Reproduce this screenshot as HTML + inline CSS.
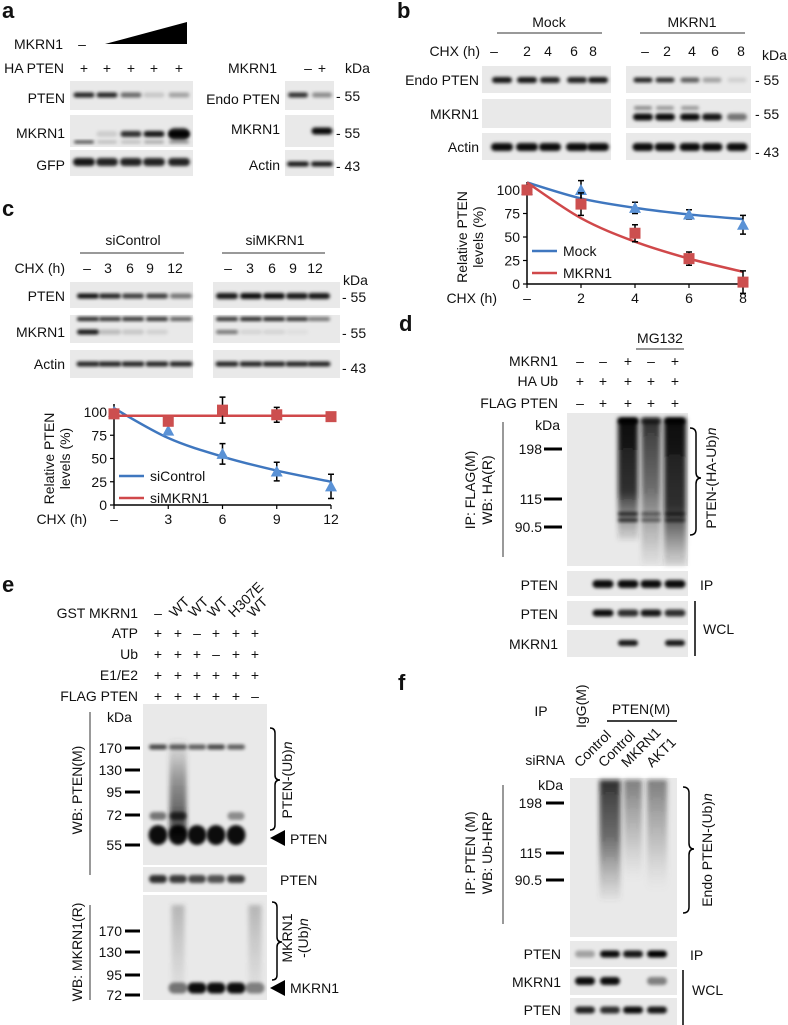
<!DOCTYPE html>
<html><head><meta charset="utf-8">
<style>
html,body{margin:0;padding:0;background:#fff;}
svg{display:block;font-family:"Liberation Sans",Arial,sans-serif;}
text{fill:#111;}
.pl{font-weight:bold;font-size:22px;}
.lb{font-size:14px;}
.sm{font-size:13px;}
</style></head>
<body>
<svg id="fig" width="788" height="1025" viewBox="0 0 788 1025">
<defs>
<filter id="bl" x="-30%" y="-60%" width="160%" height="220%"><feGaussianBlur stdDeviation="1.5"/></filter>
<filter id="bl2" x="-30%" y="-10%" width="160%" height="120%"><feGaussianBlur stdDeviation="2.5"/></filter>
<linearGradient id="smD" x1="0" y1="0" x2="0" y2="1"><stop offset="0" stop-color="#000" stop-opacity="0.95"/><stop offset="0.6" stop-color="#111" stop-opacity="0.85"/><stop offset="1" stop-color="#333" stop-opacity="0.1"/></linearGradient>
<linearGradient id="smM" x1="0" y1="0" x2="0" y2="1"><stop offset="0" stop-color="#111" stop-opacity="0.85"/><stop offset="0.5" stop-color="#222" stop-opacity="0.6"/><stop offset="1" stop-color="#555" stop-opacity="0.05"/></linearGradient>
<linearGradient id="smL" x1="0" y1="0" x2="0" y2="1"><stop offset="0" stop-color="#222" stop-opacity="0.55"/><stop offset="0.6" stop-color="#555" stop-opacity="0.25"/><stop offset="1" stop-color="#888" stop-opacity="0"/></linearGradient>
<linearGradient id="smE" x1="0" y1="0" x2="0" y2="1"><stop offset="0" stop-color="#555" stop-opacity="0.05"/><stop offset="0.4" stop-color="#333" stop-opacity="0.45"/><stop offset="1" stop-color="#111" stop-opacity="0.8"/></linearGradient>
<linearGradient id="smF" x1="0" y1="0" x2="0" y2="1"><stop offset="0" stop-color="#555" stop-opacity="0.35"/><stop offset="1" stop-color="#777" stop-opacity="0.1"/></linearGradient>
</defs>
<g id="blots"></g>

<!-- Panel a -->
<g>
<text class="pl" x="2" y="18">a</text>
<text class="lb" x="63" y="49" text-anchor="end">MKRN1</text>
<text class="lb" x="82" y="49" text-anchor="middle">–</text>
<polygon points="105,44 187,22 187,44" fill="#000"/>
<text class="lb" x="64" y="73" text-anchor="end">HA PTEN</text>
<text class="lb" x="84" y="73" text-anchor="middle">+</text><text class="lb" x="107" y="73" text-anchor="middle">+</text><text class="lb" x="131" y="73" text-anchor="middle">+</text><text class="lb" x="154" y="73" text-anchor="middle">+</text><text class="lb" x="179" y="73" text-anchor="middle">+</text>
<text class="lb" x="65" y="103" text-anchor="end">PTEN</text>
<text class="lb" x="65" y="138" text-anchor="end">MKRN1</text>
<text class="lb" x="65" y="170" text-anchor="end">GFP</text>
<text class="lb" x="277" y="73" text-anchor="end">MKRN1</text>
<text class="lb" x="308" y="73" text-anchor="middle">–</text><text class="lb" x="322" y="73" text-anchor="middle">+</text>
<text class="lb" x="345" y="73">kDa</text>
<text class="lb" x="280" y="104" text-anchor="end">Endo PTEN</text>
<text class="lb" x="280" y="134" text-anchor="end">MKRN1</text>
<text class="lb" x="280" y="170" text-anchor="end">Actin</text>
<text class="lb" x="336" y="101">- 55</text><text class="lb" x="336" y="138">- 55</text><text class="lb" x="336" y="171">- 43</text>
</g>

<!-- Panel b -->
<g>
<text class="pl" x="397" y="18">b</text>
<text class="lb" x="549" y="27" text-anchor="middle">Mock</text>
<line x1="497" y1="33" x2="602" y2="33" stroke="#333" stroke-width="1"/>
<text class="lb" x="692" y="27" text-anchor="middle">MKRN1</text>
<line x1="640" y1="33" x2="745" y2="33" stroke="#333" stroke-width="1"/>
<text class="lb" x="480" y="56" text-anchor="end">CHX (h)</text>
<text class="lb" x="494" y="56" text-anchor="middle">–</text><text class="lb" x="527" y="56" text-anchor="middle">2</text><text class="lb" x="548" y="56" text-anchor="middle">4</text><text class="lb" x="574" y="56" text-anchor="middle">6</text><text class="lb" x="593" y="56" text-anchor="middle">8</text>
<text class="lb" x="645" y="56" text-anchor="middle">–</text><text class="lb" x="667" y="56" text-anchor="middle">2</text><text class="lb" x="692" y="56" text-anchor="middle">4</text><text class="lb" x="715" y="56" text-anchor="middle">6</text><text class="lb" x="741" y="56" text-anchor="middle">8</text>
<text class="lb" x="762" y="60">kDa</text>
<text class="lb" x="479" y="85" text-anchor="end">Endo PTEN</text>
<text class="lb" x="479" y="119" text-anchor="end">MKRN1</text>
<text class="lb" x="479" y="152" text-anchor="end">Actin</text>
<text class="lb" x="755" y="85">- 55</text><text class="lb" x="755" y="119">- 55</text><text class="lb" x="755" y="157">- 43</text>
</g>

<!-- Panel c -->
<g>
<text class="pl" x="2" y="216">c</text>
<text class="lb" x="133" y="245" text-anchor="middle">siControl</text>
<line x1="80" y1="253" x2="184" y2="253" stroke="#333"/>
<text class="lb" x="275" y="245" text-anchor="middle">siMKRN1</text>
<line x1="222" y1="253" x2="325" y2="253" stroke="#333"/>
<text class="lb" x="65" y="273" text-anchor="end">CHX (h)</text>
<text class="lb" x="87" y="273" text-anchor="middle">–</text><text class="lb" x="108" y="273" text-anchor="middle">3</text><text class="lb" x="130" y="273" text-anchor="middle">6</text><text class="lb" x="150" y="273" text-anchor="middle">9</text><text class="lb" x="175" y="273" text-anchor="middle">12</text>
<text class="lb" x="228" y="273" text-anchor="middle">–</text><text class="lb" x="250" y="273" text-anchor="middle">3</text><text class="lb" x="272" y="273" text-anchor="middle">6</text><text class="lb" x="293" y="273" text-anchor="middle">9</text><text class="lb" x="315" y="273" text-anchor="middle">12</text>
<text class="lb" x="343" y="285">kDa</text>
<text class="lb" x="65" y="301" text-anchor="end">PTEN</text>
<text class="lb" x="65" y="337" text-anchor="end">MKRN1</text>
<text class="lb" x="65" y="369" text-anchor="end">Actin</text>
<text class="lb" x="342" y="302">- 55</text><text class="lb" x="342" y="338">- 55</text><text class="lb" x="342" y="373">- 43</text>
</g>

<!-- Panel d -->
<g>
<text class="pl" x="399" y="331">d</text>
<text class="lb" x="660" y="343" text-anchor="middle">MG132</text>
<line x1="636" y1="349" x2="684" y2="349" stroke="#333"/>
<text class="lb" x="558" y="366" text-anchor="end">MKRN1</text>
<text class="lb" x="558" y="386" text-anchor="end">HA Ub</text>
<text class="lb" x="558" y="408" text-anchor="end">FLAG PTEN</text>
<g class="lb" text-anchor="middle">
<text x="580" y="366">–</text><text x="603" y="366">–</text><text x="628" y="366">+</text><text x="651" y="366">–</text><text x="675" y="366">+</text>
<text x="580" y="386">+</text><text x="603" y="386">+</text><text x="628" y="386">+</text><text x="651" y="386">+</text><text x="675" y="386">+</text>
<text x="580" y="408">–</text><text x="603" y="408">+</text><text x="628" y="408">+</text><text x="651" y="408">+</text><text x="675" y="408">+</text>
</g>
<line x1="503" y1="422" x2="503" y2="557" stroke="#333"/>
<text class="lb" transform="translate(475,490) rotate(-90)" text-anchor="middle">IP: FLAG(M)</text>
<text class="lb" transform="translate(492,490) rotate(-90)" text-anchor="middle">WB: HA(R)</text>
<text class="lb" x="560" y="430" text-anchor="end">kDa</text>
<text class="lb" x="542" y="454" text-anchor="end">198</text><line x1="544" y1="449" x2="562" y2="449" stroke="#000" stroke-width="3"/>
<text class="lb" x="542" y="504" text-anchor="end">115</text><line x1="544" y1="499" x2="562" y2="499" stroke="#000" stroke-width="3"/>
<text class="lb" x="542" y="532" text-anchor="end">90.5</text><line x1="544" y1="527" x2="562" y2="527" stroke="#000" stroke-width="3"/>
<path d="M690,428 q6,0 6,6 v38 q0,6 5,6 q-5,0 -5,6 v45 q0,6 -6,6" fill="none" stroke="#000" stroke-width="1.5"/>
<text class="lb" transform="translate(716,478) rotate(-90)" text-anchor="middle">PTEN-(HA-Ub)<tspan font-style="italic">n</tspan></text>
<text class="lb" x="558" y="590" text-anchor="end">PTEN</text>
<text class="lb" x="700" y="590">IP</text>
<text class="lb" x="558" y="619" text-anchor="end">PTEN</text>
<text class="lb" x="558" y="649" text-anchor="end">MKRN1</text>
<line x1="695" y1="601" x2="695" y2="656" stroke="#000" stroke-width="1.5"/>
<text class="lb" x="703" y="634">WCL</text>
</g>

<!-- Panel e -->
<g>
<text class="pl" x="2" y="592">e</text>
<text class="lb" x="138" y="618" text-anchor="end">GST MKRN1</text>
<text class="lb" x="158" y="618" text-anchor="middle">–</text>
<text class="lb" transform="translate(175,618) rotate(-45)">WT</text>
<text class="lb" transform="translate(194,618) rotate(-45)">WT</text>
<text class="lb" transform="translate(213,618) rotate(-45)">WT</text>
<text class="lb" transform="translate(234,618) rotate(-45)">H307E</text>
<text class="lb" transform="translate(253,618) rotate(-45)">WT</text>
<text class="lb" x="138" y="638" text-anchor="end">ATP</text>
<text class="lb" x="138" y="659" text-anchor="end">Ub</text>
<text class="lb" x="138" y="680" text-anchor="end">E1/E2</text>
<text class="lb" x="138" y="701" text-anchor="end">FLAG PTEN</text>
<g class="lb" text-anchor="middle">
<text x="158" y="638">+</text><text x="178" y="638">+</text><text x="197" y="638">–</text><text x="216" y="638">+</text><text x="236" y="638">+</text><text x="255" y="638">+</text>
<text x="158" y="659">+</text><text x="178" y="659">+</text><text x="197" y="659">+</text><text x="216" y="659">–</text><text x="236" y="659">+</text><text x="255" y="659">+</text>
<text x="158" y="680">+</text><text x="178" y="680">+</text><text x="197" y="680">+</text><text x="216" y="680">+</text><text x="236" y="680">+</text><text x="255" y="680">+</text>
<text x="158" y="701">+</text><text x="178" y="701">+</text><text x="197" y="701">+</text><text x="216" y="701">+</text><text x="236" y="701">+</text><text x="255" y="701">–</text>
</g>
<line x1="90" y1="712" x2="90" y2="875" stroke="#333"/>
<text class="lb" transform="translate(82,790) rotate(-90)" text-anchor="middle">WB: PTEN(M)</text>
<line x1="90" y1="905" x2="90" y2="1000" stroke="#333"/>
<text class="lb" transform="translate(82,952) rotate(-90)" text-anchor="middle">WB: MKRN1(R)</text>
<text class="lb" x="107" y="722">kDa</text>
<g class="lb" text-anchor="end">
<text x="122" y="753">170</text><text x="122" y="775">130</text><text x="122" y="797">95</text><text x="122" y="820">72</text><text x="122" y="850">55</text>
<text x="122" y="936">170</text><text x="122" y="957">130</text><text x="122" y="980">95</text><text x="122" y="1000">72</text>
</g>
<g stroke="#000" stroke-width="3">
<line x1="125" y1="748" x2="140" y2="748"/><line x1="125" y1="770" x2="140" y2="770"/><line x1="125" y1="792" x2="140" y2="792"/><line x1="125" y1="815" x2="140" y2="815"/><line x1="125" y1="845" x2="140" y2="845"/>
<line x1="125" y1="931" x2="140" y2="931"/><line x1="125" y1="952" x2="140" y2="952"/><line x1="125" y1="975" x2="140" y2="975"/><line x1="125" y1="995" x2="140" y2="995"/>
</g>
<path d="M270,728 q5,0 5,5 v42 q0,5 5,5 q-5,0 -5,5 v40 q0,5 -5,5" fill="none" stroke="#000" stroke-width="1.5"/>
<text class="lb" transform="translate(292,780) rotate(-90)" text-anchor="middle">PTEN-(Ub)<tspan font-style="italic">n</tspan></text>
<polygon points="270,838 285,830 285,846" fill="#000"/>
<text class="lb" x="290" y="844">PTEN</text>
<text class="lb" x="280" y="885">PTEN</text>
<path d="M272,902 q5,0 5,5 v30 q0,5 5,5 q-5,0 -5,5 v28 q0,5 -5,5" fill="none" stroke="#000" stroke-width="1.5"/>
<text class="lb" transform="translate(292,938) rotate(-90)" text-anchor="middle">MKRN1</text>
<text class="lb" transform="translate(308,938) rotate(-90)" text-anchor="middle">-(Ub)<tspan font-style="italic">n</tspan></text>
<polygon points="270,988 285,980 285,996" fill="#000"/>
<text class="lb" x="290" y="993">MKRN1</text>
</g>

<!-- Panel f -->
<g>
<text class="pl" x="398" y="690">f</text>
<text class="lb" x="541" y="716" text-anchor="middle">IP</text>
<text class="lb" transform="translate(586,728) rotate(-90)">IgG(M)</text>
<text class="lb" x="641" y="714" text-anchor="middle">PTEN(M)</text>
<line x1="607" y1="721" x2="677" y2="721" stroke="#000" stroke-width="1.5"/>
<text class="lb" x="565" y="765" text-anchor="end">siRNA</text>
<text class="lb" transform="translate(580,768) rotate(-45)">Control</text>
<text class="lb" transform="translate(604,768) rotate(-45)">Control</text>
<text class="lb" transform="translate(627,768) rotate(-45)">MKRN1</text>
<text class="lb" transform="translate(652,768) rotate(-45)">AKT1</text>
<line x1="503" y1="785" x2="503" y2="924" stroke="#333"/>
<text class="lb" transform="translate(475,853) rotate(-90)" text-anchor="middle">IP: PTEN (M)</text>
<text class="lb" transform="translate(492,853) rotate(-90)" text-anchor="middle">WB: Ub-HRP</text>
<text class="lb" x="563" y="790" text-anchor="end">kDa</text>
<text class="lb" x="542" y="808" text-anchor="end">198</text><line x1="546" y1="803" x2="564" y2="803" stroke="#000" stroke-width="3"/>
<text class="lb" x="542" y="858" text-anchor="end">115</text><line x1="546" y1="853" x2="564" y2="853" stroke="#000" stroke-width="3"/>
<text class="lb" x="542" y="885" text-anchor="end">90.5</text><line x1="546" y1="880" x2="564" y2="880" stroke="#000" stroke-width="3"/>
<path d="M683,787 q6,0 6,6 v50 q0,6 5,6 q-5,0 -5,6 v52 q0,6 -6,6" fill="none" stroke="#000" stroke-width="1.5"/>
<text class="lb" transform="translate(712,850) rotate(-90)" text-anchor="middle">Endo PTEN-(Ub)<tspan font-style="italic">n</tspan></text>
<text class="lb" x="561" y="959" text-anchor="end">PTEN</text>
<text class="lb" x="690" y="960">IP</text>
<text class="lb" x="561" y="987" text-anchor="end">MKRN1</text>
<text class="lb" x="561" y="1015" text-anchor="end">PTEN</text>
<line x1="683" y1="970" x2="683" y2="1025" stroke="#000" stroke-width="1.5"/>
<text class="lb" x="692" y="995">WCL</text>
</g>

<g id="chartB"></g>
<g id="chartC"></g>
</svg>

<script>
// ---------- Chart data ----------
var bCats = ["–", "2", "4", "6", "8"];
var bMock = [100, 100, 81, 74, 63];
var bMockErr = [0, 10, 6, 5, 10];
var bMockFit = [108, 91, 81, 74, 69];
var bMkrn = [100, 85, 54, 27, 2];
var bMkrnErr = [0, 12, 9, 7, 12];
var bMkrnFit = [108, 70, 45, 27, 13];

var cCats = ["–", "3", "6", "9", "12"];
var cCtrl = [100, 80, 55, 36, 20];
var cCtrlErr = [0, 0, 11, 10, 13];
var cCtrlFit = [104, 72, 52, 37, 25];
var cSiM = [98, 90, 102, 97, 95];
var cSiMErr = [0, 4, 14, 8, 4];
var cSiMFit = [96, 96, 96, 96, 96];

var yTicks = [0, 25, 50, 75, 100];

var NS = "http://www.w3.org/2000/svg";
function mk(tag, attrs, parent) {
  var e = document.createElementNS(NS, tag);
  for (var k in attrs) e.setAttribute(k, attrs[k]);
  parent.appendChild(e);
  return e;
}

function smoothPath(pts) {
  var d = "M" + pts[0][0] + "," + pts[0][1];
  for (var i = 0; i < pts.length - 1; i++) {
    var p0 = pts[i - 1] || pts[i], p1 = pts[i], p2 = pts[i + 1], p3 = pts[i + 2] || p2;
    var c1x = p1[0] + (p2[0] - p0[0]) / 6, c1y = p1[1] + (p2[1] - p0[1]) / 6;
    var c2x = p2[0] - (p3[0] - p1[0]) / 6, c2y = p2[1] - (p3[1] - p1[1]) / 6;
    d += " C" + c1x + "," + c1y + " " + c2x + "," + c2y + " " + p2[0] + "," + p2[1];
  }
  return d;
}

function drawChart(g, cfg) {
  var x = function (i) { return cfg.x0 + i * cfg.dx; };
  var y = function (v) { return cfg.yb - (v / 100) * (cfg.yb - cfg.yt); };
  var ax = mk("line", {x1: cfg.x0, y1: cfg.yt - 8, x2: cfg.x0, y2: cfg.yb, stroke: "#000", "stroke-width": 1.5}, g);
  
  
  var axx = mk("line", {x1: cfg.x0, y1: cfg.yb, x2: x(cfg.cats.length - 1), y2: cfg.yb, stroke: "#000", "stroke-width": 1.5}, g);
  
  
  yTicks.forEach(function (t) {
    mk("line", {x1: cfg.x0 - 4, y1: y(t), x2: cfg.x0, y2: y(t), stroke: "#000", "stroke-width": 1.2}, g);
    var tl = mk("text", {x: cfg.x0 - 7, y: y(t) + 5, "text-anchor": "end", "font-size": 14}, g);
    tl.textContent = t;
    
    
  });
  cfg.cats.forEach(function (c, i) {
    mk("line", {x1: x(i), y1: cfg.yb, x2: x(i), y2: cfg.yb + 4, stroke: "#000", "stroke-width": 1.2}, g);
    var xl = mk("text", {x: x(i), y: cfg.yb + 19, "text-anchor": "middle", "font-size": 14}, g);
    xl.textContent = c;
    
    
  });
  var xt = mk("text", {x: cfg.x0 - cfg.xtOff, y: cfg.yb + 19, "text-anchor": "end", "font-size": 14}, g);
  xt.textContent = "CHX (h)";
  
  
  var yt1 = mk("text", {transform: "translate(" + (cfg.x0 - 60) + "," + ((cfg.yt + cfg.yb) / 2) + ") rotate(-90)", "text-anchor": "middle", "font-size": 14}, g);
  yt1.textContent = "Relative PTEN";
  
  
  var yt2 = mk("text", {transform: "translate(" + (cfg.x0 - 44) + "," + ((cfg.yt + cfg.yb) / 2) + ") rotate(-90)", "text-anchor": "middle", "font-size": 14}, g);
  yt2.textContent = "levels (%)";
  
  

  cfg.series.forEach(function (s) {
    var pts = s.fit.map(function (v, i) { return [x(i), y(v)]; });
    var p = mk("path", {d: smoothPath(pts), fill: "none", stroke: s.color, "stroke-width": 2.5}, g);
    
    
    s.vals.forEach(function (v, i) {
      var e = s.err[i];
      if (e > 0) {
        var eb = mk("path", {d: "M" + (x(i) - 3) + "," + y(v + e) + " h6 M" + x(i) + "," + y(v + e) + " V" + y(v - e) + " M" + (x(i) - 3) + "," + y(v - e) + " h6", stroke: "#000", "stroke-width": 1.5, fill: "none"}, g);
        
        
      }
      var m;
      if (s.shape === "tri") {
        m = mk("polygon", {points: (x(i)) + "," + (y(v) - 6) + " " + (x(i) - 6) + "," + (y(v) + 5) + " " + (x(i) + 6) + "," + (y(v) + 5), fill: s.mcolor}, g);
      } else {
        m = mk("rect", {x: x(i) - 5.5, y: y(v) - 5.5, width: 11, height: 11, fill: s.mcolor}, g);
      }
      
      
    });
  });
  cfg.series.forEach(function (s, k) {
    var ly = cfg.legY + k * 22;
    var ll = mk("line", {x1: cfg.x0 + 5, y1: ly, x2: cfg.x0 + 30, y2: ly, stroke: s.color, "stroke-width": 2.5}, g);
    
    
    var lt = mk("text", {x: cfg.x0 + 36, y: ly + 5, "font-size": 14}, g);
    lt.textContent = s.label;
    
    
  });
}

drawChart(document.getElementById("chartB"), {
  x0: 527, dx: 54, yt: 190, yb: 284, cats: bCats, legY: 251, xtOff: 30,
  series: [
    {name: "mock", label: "Mock", vals: bMock, err: bMockErr, fit: bMockFit, color: "#3f77bf", mcolor: "#5a92d6", shape: "tri"},
    {name: "mkrn1", label: "MKRN1", vals: bMkrn, err: bMkrnErr, fit: bMkrnFit, color: "#d0484a", mcolor: "#cc4f4f", shape: "sq"}
  ]
});
drawChart(document.getElementById("chartC"), {
  x0: 114, dx: 54.25, yt: 412, yb: 505, cats: cCats, legY: 476, xtOff: 27,
  series: [
    {name: "sicontrol", label: "siControl", vals: cCtrl, err: cCtrlErr, fit: cCtrlFit, color: "#3f77bf", mcolor: "#5a92d6", shape: "tri"},
    {name: "simkrn1", label: "siMKRN1", vals: cSiM, err: cSiMErr, fit: cSiMFit, color: "#d0484a", mcolor: "#cc4f4f", shape: "sq"}
  ]
});

// ---------- Blots ----------
var G = document.getElementById("blots");
function box(x, y, w, h, name) {
  var r = mk("rect", {x: x, y: y, width: w, height: h, fill: "#e9e9e9"}, G);
  
  
}
function bands(xs, y, w, h, ints) {
  xs.forEach(function (cx, i) {
    if (ints[i] <= 0) return;
    var b = mk("rect", {x: cx - w / 2, y: y - h / 2, width: w, height: h, rx: h / 2, fill: "#000", "fill-opacity": ints[i], filter: "url(#bl)"}, G);
    
    
  });
}
function smear(cx, y1, y2, w, grad) {
  var s = mk("rect", {x: cx - w / 2, y: y1, width: w, height: y2 - y1, fill: "url(#" + grad + ")", filter: "url(#bl2)"}, G);
  
  
}

// a
var aL = [84, 107, 131, 154, 179];
box(70, 81, 123, 29, "blot-a-pten"); bands(aL, 95, 21, 5, [0.85, 0.85, 0.55, 0.15, 0.3]);
box(70, 115, 123, 32, "blot-a-mkrn1"); bands(aL, 134, 21, 6, [0, 0.12, 0.8, 0.9, 1]); bands([179], 134, 21, 12, [0.8]); bands(aL, 142, 20, 3, [0.7, 0.2, 0.2, 0.3, 0.4]);
box(70, 150, 123, 26, "blot-a-gfp"); bands(aL, 162, 22, 8, [0.9, 0.85, 0.85, 0.85, 0.85]);
var aR = [298, 322];
box(285, 81, 49, 29, "blot-a-endo-pten"); bands(aR, 95, 20, 5, [0.8, 0.4]);
box(285, 115, 49, 32, "blot-a-mkrn1-endo"); bands(aR, 131, 21, 7, [0, 0.95]);
box(285, 150, 49, 26, "blot-a-actin"); bands(aR, 164, 22, 5, [0.9, 0.9]);
// b
var bM = [502, 527, 550, 577, 598], bK = [643, 665, 690, 712, 737];
box(482, 66, 129, 27, "blot-b-pten-mock"); box(626, 66, 125, 27, "blot-b-pten-mkrn1");
bands(bM, 80, 20, 6, [0.9, 0.9, 0.85, 0.85, 0.9]); bands(bK, 80, 19, 5, [0.85, 0.8, 0.6, 0.3, 0.1]);
box(482, 99, 129, 29, "blot-b-mkrn1-mock"); box(626, 99, 125, 29, "blot-b-mkrn1-mkrn1");
bands(bK, 117, 20, 7, [0.95, 0.95, 0.95, 0.9, 0.5]); bands(bK, 108, 18, 4, [0.4, 0.35, 0.35, 0, 0]);
box(482, 133, 129, 27, "blot-b-actin-mock"); box(626, 133, 125, 27, "blot-b-actin-mkrn1");
bands(bM, 147, 22, 8, [0.95, 0.95, 0.95, 0.95, 0.95]); bands(bK, 147, 21, 8, [0.95, 0.95, 0.95, 0.95, 0.95]);
// c
var cA = [88, 110, 133, 157, 181], cB = [227, 251, 274, 297, 319];
box(70, 282, 123, 26, "blot-c-pten-sicontrol"); box(213, 282, 127, 26, "blot-c-pten-simkrn1");
bands(cA, 296, 22, 5, [0.95, 0.85, 0.75, 0.75, 0.5]); bands(cB, 296, 22, 6, [0.9, 0.95, 0.95, 0.9, 0.9]);
box(70, 315, 123, 28, "blot-c-mkrn1-sicontrol"); box(213, 315, 127, 28, "blot-c-mkrn1-simkrn1");
bands(cA, 319, 22, 4, [0.85, 0.8, 0.8, 0.8, 0.6]); bands(cB, 319, 22, 4, [0.8, 0.85, 0.85, 0.8, 0.5]);
bands(cA, 332, 22, 5, [0.9, 0.2, 0.15, 0.1, 0]); bands(cB, 332, 22, 4, [0.5, 0.1, 0.1, 0.05, 0]);
box(70, 350, 123, 28, "blot-c-actin-sicontrol"); box(213, 350, 127, 28, "blot-c-actin-simkrn1");
bands(cA, 364, 23, 5, [0.85, 0.85, 0.85, 0.85, 0.85]); bands(cB, 364, 23, 5, [0.85, 0.85, 0.85, 0.85, 0.85]);
// d
var dL = [580, 603, 628, 651, 675];
box(567, 413, 121, 153, "blot-d-ubiquitin");
smear(628, 418, 540, 20, "smD"); smear(651, 418, 565, 19, "smM"); smear(675, 418, 566, 22, "smD");
bands([628, 651, 675], 421, 20, 6, [1, 0.6, 1]);
bands([628, 651, 675], 514, 20, 4, [0.7, 0.45, 0.6]); bands([628, 651, 675], 520, 20, 4, [0.7, 0.45, 0.6]);
box(567, 571, 121, 25, "blot-d-ip-pten"); bands(dL, 584, 21, 8, [0, 0.95, 0.95, 0.95, 0.95]);
box(567, 601, 121, 24, "blot-d-wcl-pten"); bands(dL, 613, 21, 7, [0, 0.95, 0.8, 0.9, 0.8]);
box(567, 630, 121, 27, "blot-d-wcl-mkrn1"); bands(dL, 643, 20, 6, [0, 0, 0.9, 0, 0.9]);
// e
var eL = [158, 178, 197, 216, 236, 255];
box(143, 704, 124, 161, "blot-e-pten");
smear(178, 740, 835, 17, "smE");
bands(eL, 747, 18, 5, [0.7, 0.6, 0.6, 0.7, 0.6, 0]);
bands(eL, 835, 19, 20, [0.95, 0.95, 0.95, 0.95, 0.95, 0]);
bands([158, 178, 236], 816, 17, 8, [0.5, 0.7, 0.4]);
box(143, 867, 124, 25, "blot-e-pten-strip"); bands(eL, 879, 18, 8, [0.8, 0.75, 0.7, 0.65, 0.75, 0]);
box(143, 895, 124, 105, "blot-e-mkrn1");
smear(178, 905, 985, 13, "smF"); smear(255, 905, 985, 13, "smF");
bands(eL, 988, 19, 11, [0, 0.5, 0.95, 0.95, 0.95, 0.45]);
// f
var fL = [585, 610, 633, 657];
box(570, 778, 107, 159, "blot-f-ubiquitin");
smear(610, 780, 900, 21, "smM"); smear(633, 780, 880, 18, "smL"); smear(657, 780, 890, 20, "smL");
box(570, 941, 107, 26, "blot-f-ip-pten"); bands(fL, 954, 20, 7, [0.3, 0.95, 0.9, 1]);
box(570, 969, 107, 26, "blot-f-wcl-mkrn1"); bands(fL, 981, 20, 8, [0.95, 0.95, 0, 0.45]);
box(570, 998, 107, 27, "blot-f-wcl-pten"); bands(fL, 1010, 20, 7, [0.85, 0.8, 0.95, 0.9]);
</script>
</body></html>
